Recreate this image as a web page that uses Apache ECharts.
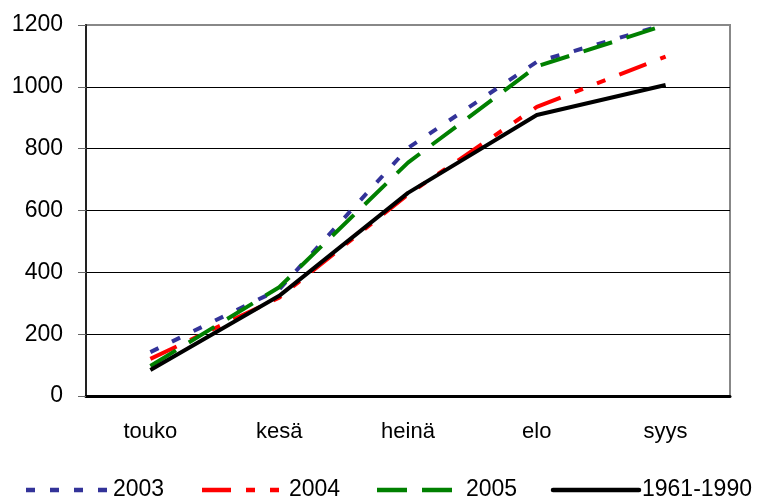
<!DOCTYPE html>
<html>
<head>
<meta charset="utf-8">
<script src="https://cdn.jsdelivr.net/npm/echarts@6/dist/echarts.min.js"></script>
<style>
  html, body { margin: 0; padding: 0; background: #fff; }
  #chart { width: 762px; height: 498px; }
</style>
</head>
<body>
<div id="chart"></div>
<script>
// Months (May–September)
const months = ['touko', 'kesä', 'heinä', 'elo', 'syys'];
const yTicks = [0, 200, 400, 600, 800, 1000, 1200];

// Cumulative values per year and the 1961-1990 reference period
const y2003 = [142, 345, 802, 1081, 1202];
const y2004 = [120, 318, 652, 935, 1098];
const y2005 = [97, 352, 755, 1066, 1200];
const ref6190 = [84, 324, 657, 909, 1006];

const chart = echarts.init(document.getElementById('chart'));
const font = 'Liberation Sans, Arial, sans-serif';

// Line styles shared by the plotted series and the legend keys
const styles = {
  '2003':      { color: '#333399', dash: [9, 15] },
  '2004':      { color: '#ff0000', dash: [29, 15, 9, 15, 9, 15] },
  '2005':      { color: '#008000', dash: [30, 15] },
  '1961-1990': { color: '#000000', dash: 'solid' }
};

function lineSeries(name, data) {
  const s = styles[name];
  return {
    name: name,
    type: 'line',
    data: data,
    symbol: 'none',
    lineStyle: { color: s.color, width: 4, type: s.dash, cap: 'butt' },
    itemStyle: { color: s.color }
  };
}

// Legend keys along the bottom: [name, key start x, key end x, text x]
const legendKeys = [
  ['2003', 26, 108, 113],
  ['2004', 202, 280, 289],
  ['2005', 377, 452, 466],
  ['1961-1990', 553, 639, 642]
];
const legendY = 490;
const legendGraphics = [];
legendKeys.forEach(function (k) {
  const s = styles[k[0]];
  legendGraphics.push({
    type: 'line',
    shape: { x1: k[1], y1: legendY, x2: k[2], y2: legendY },
    style: {
      stroke: s.color, lineWidth: 4.5,
      lineDash: s.dash === 'solid' ? null : s.dash,
      lineCap: k[0] === '1961-1990' ? 'round' : 'butt'
    }
  });
  legendGraphics.push({
    type: 'text',
    x: k[3], y: legendY,
    style: { text: k[0], font: '23px ' + font, fill: '#000', verticalAlign: 'middle', align: 'left' }
  });
});

chart.setOption({
  animation: false,
  grid: {
    left: 86, right: 32, top: 25, bottom: 102,
    show: true, borderColor: '#888', borderWidth: 2, backgroundColor: '#fff'
  },
  xAxis: {
    type: 'category',
    data: months,
    boundaryGap: true,
    axisLine: { lineStyle: { color: '#000', width: 3 } },
    axisTick: { show: false },
    axisLabel: { fontFamily: font, fontSize: 22, color: '#000', margin: 25 },
    splitLine: { show: false }
  },
  yAxis: {
    type: 'value',
    min: yTicks[0], max: yTicks[yTicks.length - 1], interval: 200,
    axisLine: { show: true, lineStyle: { color: '#222', width: 2 } },
    axisTick: { show: true, length: 8, lineStyle: { color: '#666', width: 1 } },
    axisLabel: {
      fontFamily: font, fontSize: 23, color: '#000', margin: 23,
      formatter: function (v) { return String(v); }
    },
    splitLine: { show: true, lineStyle: { color: ['#000', '#000', '#000', '#000', '#000', '#000', '#888'], width: 1 } }
  },
  series: [
    lineSeries('2003', y2003),
    lineSeries('2004', y2004),
    lineSeries('2005', y2005),
    lineSeries('1961-1990', ref6190)
  ],
  graphic: legendGraphics
});
</script>
</body>
</html>
